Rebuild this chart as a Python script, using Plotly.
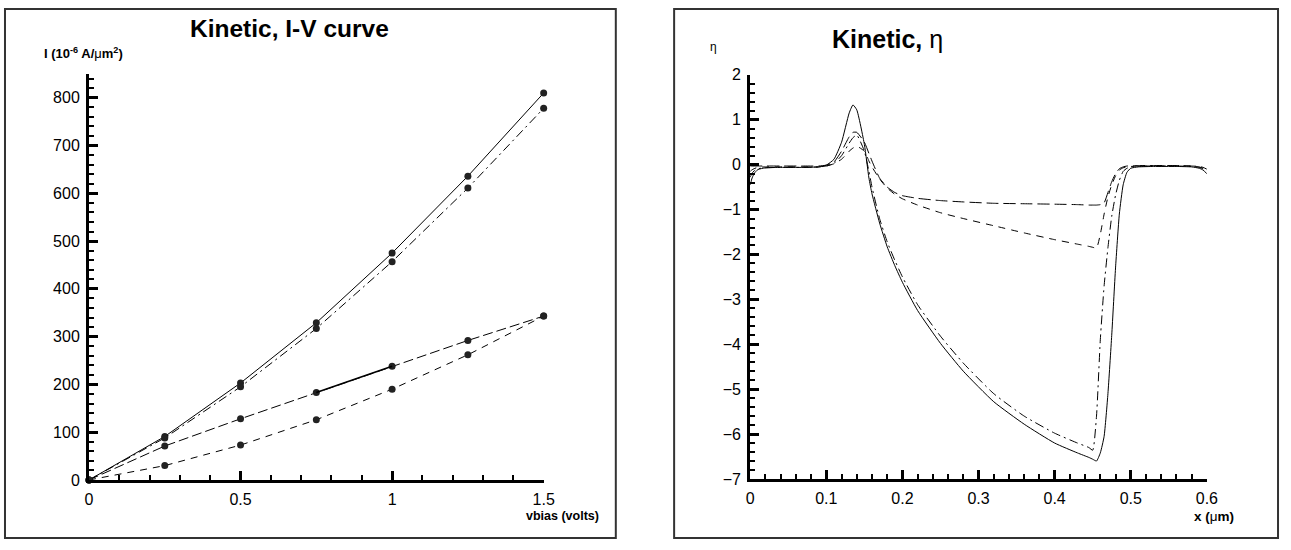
import plotly.graph_objects as go

# ---- I-V curve data (current in 1e-6 A/um^2 vs bias voltage) ----
vbias = [0, 0.25, 0.5, 0.75, 1.0, 1.25, 1.5]
iv_solid = [0, 91, 203, 329, 475, 636, 810]
iv_dashdot = [0, 88, 195, 317, 457, 611, 778]
iv_longdash = [0, 71, 128, 183, 238, 292, 343]
iv_dash = [0, 30, 73, 126, 190, 262, 343]

# ---- eta profile data ----
x_eta = [0, 0.002, 0.005, 0.01, 0.02, 0.04, 0.07, 0.09, 0.10, 0.11, 0.12, 0.13,
         0.135, 0.14, 0.15, 0.156, 0.16, 0.17, 0.18, 0.19, 0.20, 0.22, 0.25, 0.28,
         0.32, 0.36, 0.40, 0.43, 0.445, 0.45, 0.455, 0.46, 0.465, 0.47, 0.475, 0.48,
         0.485, 0.49, 0.495, 0.50, 0.51, 0.53, 0.56, 0.58, 0.59, 0.595, 0.60]
eta_solid = [-0.45, -0.32, -0.2, -0.11, -0.07, -0.06, -0.06, -0.05, -0.01, 0.12, 0.5, 1.15,
             1.33, 1.22, 0.45, -0.3, -0.65, -1.3, -1.83, -2.25, -2.62, -3.25, -3.98, -4.6,
             -5.28, -5.78, -6.2, -6.42, -6.52, -6.56, -6.6, -6.42, -6.05, -5.1, -3.8, -2.3,
             -1.1, -0.45, -0.17, -0.08, -0.05, -0.04, -0.04, -0.05, -0.08, -0.12, -0.2]
eta_dashdot = [-0.28, -0.2, -0.14, -0.09, -0.07, -0.06, -0.06, -0.05, -0.03, 0.03, 0.2, 0.48,
               0.6, 0.66, 0.3, -0.15, -0.5, -1.2, -1.72, -2.13, -2.5, -3.12, -3.82, -4.42,
               -5.1, -5.6, -5.98, -6.2, -6.3, -6.36, -5.6, -3.9, -2.7, -1.85, -1.15, -0.68,
               -0.35, -0.15, -0.08, -0.05, -0.04, -0.03, -0.03, -0.04, -0.06, -0.09, -0.14]
eta_longdash = [-0.03, -0.03, -0.03, -0.03, -0.03, -0.03, -0.03, -0.03, -0.01, 0.06, 0.3, 0.62,
                0.72, 0.72, 0.5, 0.25, 0.08, -0.3, -0.5, -0.62, -0.69, -0.75, -0.8, -0.83,
                -0.86, -0.87, -0.88, -0.89, -0.9, -0.9, -0.9, -0.89, -0.85, -0.62, -0.38, -0.2,
                -0.09, -0.05, -0.03, -0.03, -0.02, -0.02, -0.02, -0.03, -0.04, -0.06, -0.1]
eta_dash = [-0.15, -0.12, -0.09, -0.06, -0.05, -0.05, -0.05, -0.05, -0.03, 0.02, 0.12, 0.3,
            0.37, 0.41, 0.3, 0.08, -0.05, -0.32, -0.52, -0.66, -0.76, -0.9, -1.07, -1.2,
            -1.36, -1.52, -1.67, -1.77, -1.82, -1.84, -1.86, -1.55, -1.1, -0.72, -0.45, -0.25,
            -0.12, -0.07, -0.05, -0.04, -0.03, -0.03, -0.03, -0.03, -0.05, -0.08, -0.12]

W, H = 1291, 550
FONT = "Liberation Sans, Arial, sans-serif"
LONGDASH = "10px,4px"
SHORTDASH = "7px,6px"
DASHDOT = "9px,4px,2px,4px"


def px(x):
    return x / W


def py(y):
    return 1 - y / H


fig = go.Figure()

marker = dict(size=7, color="#222222")
iv_series = [
    (iv_solid, "solid"),
    (iv_dashdot, DASHDOT),
    (iv_longdash, LONGDASH),
    (iv_dash, SHORTDASH),
]
for vals, dash in iv_series:
    fig.add_trace(go.Scatter(
        x=vbias, y=vals, mode="lines+markers", xaxis="x", yaxis="y",
        line=dict(color="black", width=1, dash=dash), marker=marker,
        cliponaxis=False, showlegend=False))

# the 0.75 -> 1.0 stretch of the long-dash series is drawn solid
fig.add_trace(go.Scatter(
    x=vbias[3:5], y=iv_longdash[3:5], mode="lines", xaxis="x", yaxis="y",
    line=dict(color="black", width=1.6), showlegend=False))

eta_series = [
    (eta_longdash, "12px,5px"),
    (eta_dash, SHORTDASH),
    (eta_dashdot, DASHDOT),
    (eta_solid, "solid"),
]
for vals, dash in eta_series:
    fig.add_trace(go.Scatter(
        x=x_eta, y=vals, mode="lines", xaxis="x2", yaxis="y2",
        line=dict(color="black", width=1, dash=dash, shape="spline", smoothing=0.5),
        showlegend=False))


def axis(domain, rng, major, minor):
    return dict(
        domain=domain, range=rng, dtick=major, tick0=0,
        showline=True, linecolor="black", linewidth=3, mirror=False,
        showgrid=False, zeroline=False,
        ticks="inside", ticklen=9, tickwidth=3, tickcolor="black",
        ticklabelstandoff=3,
        tickfont=dict(family=FONT, size=16, color="black"),
        minor=dict(dtick=minor, tick0=0, ticks="inside", ticklen=5,
                   tickwidth=1.5, tickcolor="black", showgrid=False),
        layer="above traces",
    )


fig.update_layout(
    width=W, height=H,
    margin=dict(l=0, r=0, t=0, b=0),
    paper_bgcolor="white", plot_bgcolor="white",
    xaxis=dict(anchor="y", **axis([px(86), px(546)], [0, 1.5], 0.5, 0.1)),
    yaxis=dict(anchor="x", **axis([py(487), py(68)], [0, 850], 100, 20)),
    xaxis2=dict(anchor="y2", **axis([px(755), px(1217)], [0, 0.6], 0.1, 0.02)),
    yaxis2=dict(anchor="x2", **axis([py(486), py(69)], [-7, 2], 1, 0.2)),
)

# panel frames
for x0, x1 in [(1, 619), (678, 1289)]:
    fig.add_shape(type="rect", xref="paper", yref="paper",
                  x0=px(x0), x1=px(x1), y0=py(547), y1=py(1),
                  line=dict(color="#333333", width=2), fillcolor="rgba(0,0,0,0)")


def label(text, x, y, size, xanchor="center"):
    fig.add_annotation(text=text, xref="paper", yref="paper", x=px(x), y=py(y),
                       xanchor=xanchor, yanchor="middle", showarrow=False,
                       font=dict(family=FONT, size=size, color="black"))


label("<b>Kinetic, I-V curve</b>", 289, 21, 24.5)
label("<b>Kinetic,</b> η", 894, 32, 25)
label("<b>I (10<sup>-6</sup> A/</b>μ<b>m<sup>2</sup>)</b>", 38, 46, 13, "left")
label("η", 712, 40, 12, "left")
label("<b>vbias (volts)</b>", 604, 524, 12.5, "right")
label("<b>x (</b>μ<b>m)</b>", 1246, 525, 13.5, "right")

fig.write_html("out.html")
